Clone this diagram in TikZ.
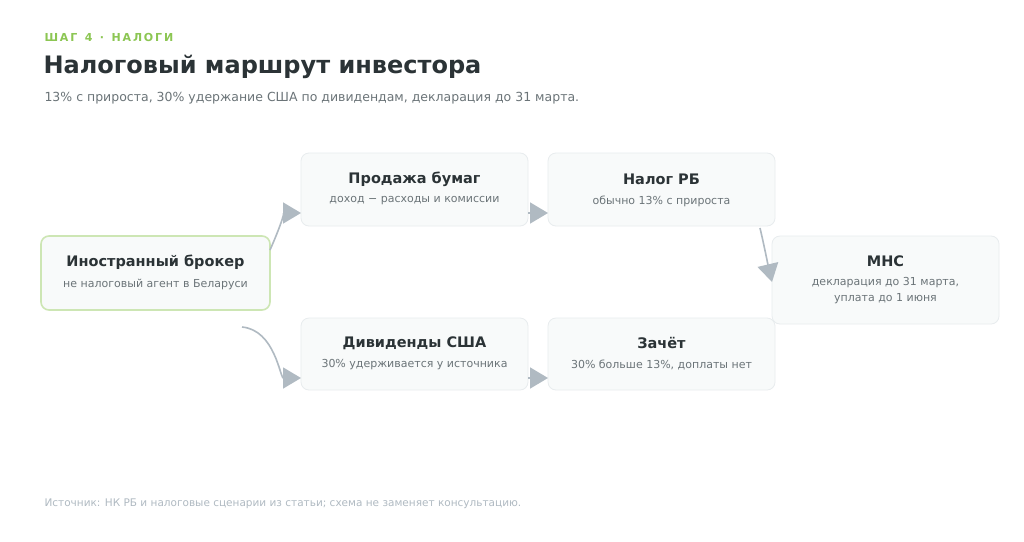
\documentclass[tikz,border=0pt]{standalone}
\usepackage{fontspec}
\setmainfont{DejaVu Sans}
\usetikzlibrary{arrows.meta}
\definecolor{ink}{HTML}{2B3336}
\definecolor{sub}{HTML}{6B7478}
\definecolor{edge}{HTML}{B0BAC2}
\definecolor{boxfill}{HTML}{F8FAFA}
\definecolor{boxline}{HTML}{E8ECEE}
\definecolor{grn}{HTML}{8CC653}
\definecolor{grnline}{HTML}{CDE6B4}
\begin{document}
\begin{tikzpicture}[x=1pt,y=-1pt,
  card/.style={draw=boxline,fill=boxfill,rounded corners=8pt,line width=0.8pt},
  ttl/.style={font=\bfseries\fontsize{14.5}{17}\selectfont,text=ink},
  sbt/.style={font=\fontsize{11}{14}\selectfont,text=sub,align=center},
  conn/.style={draw=edge,line width=1.6pt,-{Triangle[length=18pt,width=21pt,fill=edge]},shorten >=0pt}]
\fill[white] (0,0) rectangle (1024,541);
\useasboundingbox (0,0) rectangle (1024,541);
\node[anchor=base west,text=grn,font=\bfseries\fontsize{11}{13}\selectfont] (hdr) at (41,41) {Ш\,А\,Г\,\, 4\,\, ·\,\, Н\,А\,Л\,О\,Г\,И};
\node[anchor=base west,text=ink,font=\bfseries\fontsize{24}{28}\selectfont] (tt) at (40,73) {Налоговый маршрут инвестора};
\node[anchor=base west,text=sub,font=\fontsize{12.5}{15}\selectfont] (st) at (41,101) {13\% с прироста, 30\% удержание США по дивидендам, декларация до 31 марта.};
\node[anchor=base west,text=edge,font=\fontsize{10.5}{13}\selectfont] (ft) at (41,506) {Источник: НК РБ и налоговые сценарии из статьи; схема не заменяет консультацию.};

\draw[card,draw=grnline,fill=boxfill,line width=1.6pt] (41,236) rectangle (270,310);
\node[card,draw=none,fill=none] (br) at (155.5,273) {};
\node[ttl] at (155.5,262) {Иностранный брокер};
\node[sbt] at (155.5,284) {не налоговый агент в Беларуси};

\draw[card] (301,153) rectangle (528,226); \node (pb) at (414.5,189.5) {};
\node[ttl] at (414.5,179) {Продажа бумаг};
\node[sbt] at (414.5,201) {доход − расходы и комиссии};

\draw[card] (548,153) rectangle (775,226); \node (nr) at (661.5,189.5) {};
\node[ttl] at (661.5,179) {Налог РБ};
\node[sbt] at (661.5,201) {обычно 13\% с прироста};

\draw[card] (772,236) rectangle (999,324); \node (mns) at (885.5,280) {};
\node[ttl] at (885.5,261) {МНС};
\node[sbt,font=\fontsize{11}{16}\selectfont] at (885.5,291) {декларация до 31 марта,\\уплата до 1 июня};

\draw[card] (301,318) rectangle (528,390); \node (dv) at (414.5,354) {};
\node[ttl] at (414.5,343) {Дивиденды США};
\node[sbt] at (414.5,365) {30\% удерживается у источника};

\draw[card] (548,318) rectangle (775,390); \node (zc) at (661.5,354) {};
\node[ttl] at (661.5,343) {Зачёт};
\node[sbt] at (661.5,365) {30\% больше 13\%, доплаты нет};

\coordinate (b1) at (270,250);
\coordinate (p1) at (301,213);
\coordinate (b2) at (242,327);
\coordinate (d1) at (301,378);
\coordinate (p2) at (528,213);
\coordinate (n1) at (548,213);
\coordinate (n2) at (760,228);
\coordinate (m1) at (772,282);
\coordinate (d2) at (528,378);
\coordinate (z1) at (548,378);

\draw[conn] (b1) .. controls (278,232) and (285,213) .. (p1);
\draw[conn] (b2) .. controls (275,330) and (280,378) .. (d1);
\draw[conn] (p2) -- (n1);
\draw[conn] (d2) -- (z1);
\draw[conn] (n2) .. controls (764,245) and (768,265) .. (m1);
\end{tikzpicture}
\end{document}
